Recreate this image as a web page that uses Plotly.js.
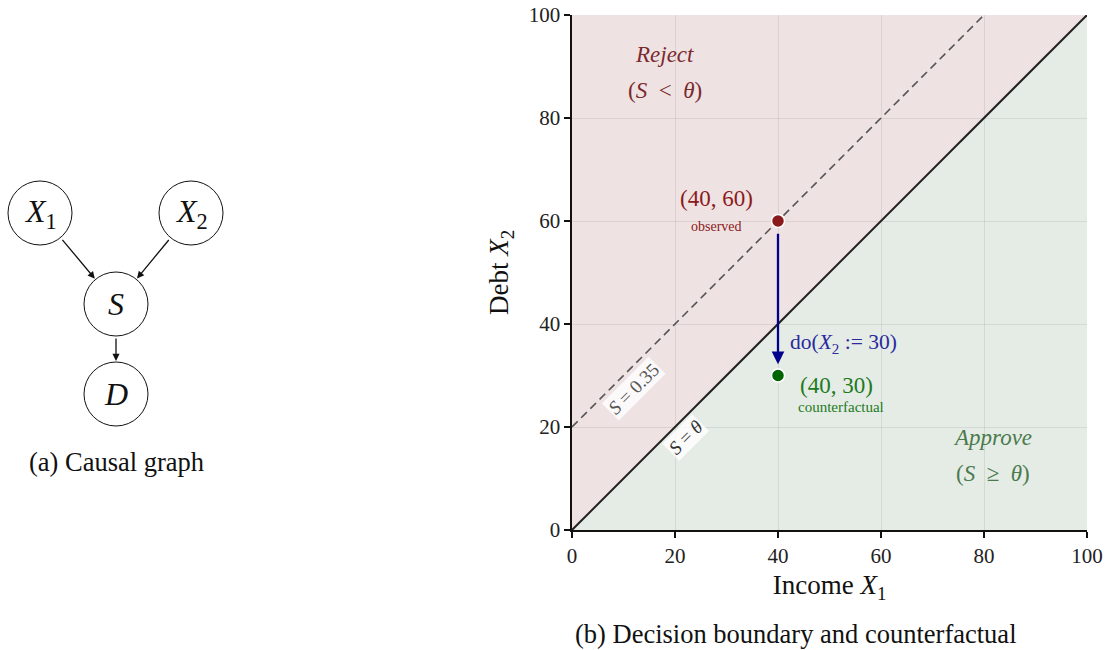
<!DOCTYPE html>
<html>
<head>
<meta charset="utf-8">
<script src="https://cdn.plot.ly/plotly-3.0.1.min.js"></script>
<style>html,body{margin:0;padding:0;background:#fff;}#chart{width:1108px;height:650px;}</style>
</head>
<body>
<div id="chart"></div>
<script>
// ---- data ----
const tickVals = [0, 20, 40, 60, 80, 100];
const boundaryX = [0, 100];          // S = theta  (X2 = X1)
const boundaryY = [0, 100];
const dashedX = [0, 80];             // S = 0.35   (X2 = X1 + 20)
const dashedY = [20, 100];
const approveX = [0, 100, 100];      // region below boundary
const approveY = [0, 0, 100];
const observedX = [40];
const observedY = [60];
const counterX = [40];
const counterY = [30];
// causal graph
const nodeNames = ['<i>X</i><sub>1</sub>', '<i>X</i><sub>2</sub>', '<i>S</i>', '<i>D</i>'];
const nodeX = [40, 191, 116, 116];
const nodeY = [213, 213, 304, 394];
const edgeFrom = [0, 1, 2];
const edgeTo = [2, 2, 3];

const serif = 'Liberation Serif, Times New Roman, serif';
const nodeR = 32;

const traces = [
  {x: boundaryX, y: boundaryY, mode: 'lines', line: {color: '#222', width: 2}, xaxis: 'x', yaxis: 'y', hoverinfo: 'skip'},
  {x: dashedX, y: dashedY, mode: 'lines', line: {color: '#555', width: 1.6, dash: '8px,5px'}, xaxis: 'x', yaxis: 'y', hoverinfo: 'skip'},
  {x: observedX, y: observedY, mode: 'markers', marker: {color: '#8b1a1a', size: 13, line: {color: '#fff', width: 1.5}}, xaxis: 'x', yaxis: 'y', cliponaxis: false},
  {x: counterX, y: counterY, mode: 'markers', marker: {color: '#006400', size: 13, line: {color: '#fff', width: 1.5}}, xaxis: 'x', yaxis: 'y', cliponaxis: false},
  {x: nodeX, y: nodeY, mode: 'markers', marker: {symbol: 'circle', color: '#fff', size: nodeR * 2, line: {color: '#111', width: 1}}, xaxis: 'x2', yaxis: 'y2', hoverinfo: 'skip', cliponaxis: false}
];

const approvePath = 'M ' + approveX.map((v, i) => v + ',' + approveY[i]).join(' L ') + ' Z';

const annotations = [];
// node labels
nodeNames.forEach((n, i) => annotations.push({xref: 'x2', yref: 'y2', x: nodeX[i], y: nodeY[i], text: n, showarrow: false, font: {family: serif, size: 32, color: '#111'}}));
// edges
edgeFrom.forEach((f, k) => {
  const t = edgeTo[k];
  const dx = nodeX[t] - nodeX[f], dy = nodeY[t] - nodeY[f];
  const L = Math.hypot(dx, dy);
  const ux = dx / L, uy = dy / L;
  annotations.push({xref: 'x2', yref: 'y2', axref: 'x2', ayref: 'y2',
    x: nodeX[t] - ux * (nodeR + 1), y: nodeY[t] - uy * (nodeR + 1),
    ax: nodeX[f] + ux * (nodeR + 1), ay: nodeY[f] + uy * (nodeR + 1),
    showarrow: true, arrowhead: 2, arrowsize: 1.1, arrowwidth: 1.3, arrowcolor: '#111', text: ''});
});
annotations.push({xref: 'paper', yref: 'paper', x: 116 / 1108, y: 1 - 462 / 650, xanchor: 'center', yanchor: 'middle', text: '(a) Causal graph', showarrow: false, font: {family: serif, size: 26.5, color: '#111'}});
annotations.push({xref: 'paper', yref: 'paper', x: 796 / 1108, y: 1 - 634 / 650, xanchor: 'center', yanchor: 'middle', text: '(b) Decision boundary and counterfactual', showarrow: false, font: {family: serif, size: 26.5, color: '#111'}});
// main plot labels
annotations.push({x: 18, y: 92.3, text: '<i>Reject</i>', showarrow: false, font: {family: serif, size: 23, color: '#7b2a2e'}});
annotations.push({x: 18, y: 85.3, text: '(<i>S</i>  &lt;  <i>θ</i>)', showarrow: false, font: {family: serif, size: 23, color: '#7b2a2e'}});
annotations.push({x: 81.7, y: 18, text: '<i>Approve</i>', showarrow: false, font: {family: serif, size: 23, color: '#4b7a4e'}});
annotations.push({x: 81.7, y: 11, text: '(<i>S</i>  ≥  <i>θ</i>)', showarrow: false, font: {family: serif, size: 23, color: '#4b7a4e'}});
annotations.push({x: 28, y: 64.3, text: '(40, 60)', showarrow: false, font: {family: serif, size: 23, color: '#8b1a1a'}});
annotations.push({x: 28, y: 59, text: 'observed', showarrow: false, font: {family: serif, size: 14, color: '#8b1a1a'}});
annotations.push({x: 51.3, y: 28, text: '(40, 30)', showarrow: false, font: {family: serif, size: 23, color: '#1e7a1e'}});
annotations.push({x: 52.2, y: 23.9, text: 'counterfactual', showarrow: false, font: {family: serif, size: 15, color: '#1e7a1e'}});
annotations.push({x: 42, y: 36.3, xanchor: 'left', text: 'do(<i>X</i><sub>2</sub> := 30)', showarrow: false, font: {family: serif, size: 21.5, color: '#2a2aa0'}});
// intervention arrow
annotations.push({x: observedX[0], y: counterY[0] + 2.2, ax: observedX[0], ay: observedY[0] - 2.2, axref: 'x', ayref: 'y', showarrow: true, arrowhead: 2, arrowsize: 1.1, arrowwidth: 2.3, arrowcolor: '#00008b', text: ''});
// line labels
annotations.push({x: 12, y: 27.5, text: '<i>S</i> = 0.35', textangle: -45, showarrow: false, bgcolor: 'rgba(255,255,255,0.8)', font: {family: serif, size: 19, color: '#555'}});
annotations.push({x: 22, y: 18, text: '<i>S</i> = <i>θ</i>', textangle: -45, showarrow: false, bgcolor: 'rgba(255,255,255,0.8)', font: {family: serif, size: 19, color: '#333'}});

const axisCommon = {
  range: [0, 100], tickvals: tickVals, ticks: 'outside', ticklen: 6, tickwidth: 1.3, tickcolor: '#111',
  showline: true, linecolor: '#111', linewidth: 1.6, mirror: false, zeroline: false,
  showgrid: true, gridcolor: 'rgba(0,0,0,0.08)', gridwidth: 1,
  tickfont: {family: serif, size: 21, color: '#222'}, fixedrange: true
};

const layout = {
  width: 1108, height: 650,
  margin: {l: 0, r: 0, t: 0, b: 0},
  paper_bgcolor: '#fff', plot_bgcolor: '#fff',
  showlegend: false,
  xaxis: Object.assign({}, axisCommon, {domain: [572 / 1108, 1087 / 1108], anchor: 'y',
    title: {text: 'Income <i>X</i><sub>1</sub>', font: {family: serif, size: 27, color: '#111'}, standoff: 8}}),
  yaxis: Object.assign({}, axisCommon, {domain: [120 / 650, 635 / 650], anchor: 'x',
    title: {text: 'Debt <i>X</i><sub>2</sub>', font: {family: serif, size: 27, color: '#111'}, standoff: 12}}),
  xaxis2: {domain: [0, 277 / 1108], range: [0, 277], visible: false, anchor: 'y2', fixedrange: true},
  yaxis2: {domain: [0, 1], range: [650, 0], visible: false, anchor: 'x2', fixedrange: true},
  shapes: [
    {type: 'rect', xref: 'x', yref: 'y', x0: 0, x1: 100, y0: 0, y1: 100, fillcolor: '#efe2e3', line: {width: 0}, layer: 'below'},
    {type: 'path', xref: 'x', yref: 'y', path: approvePath, fillcolor: '#e5ece5', line: {width: 0}, layer: 'below'}
  ],
  annotations: annotations
};

Plotly.newPlot('chart', traces, layout, {staticPlot: true});
</script>
</body>
</html>
